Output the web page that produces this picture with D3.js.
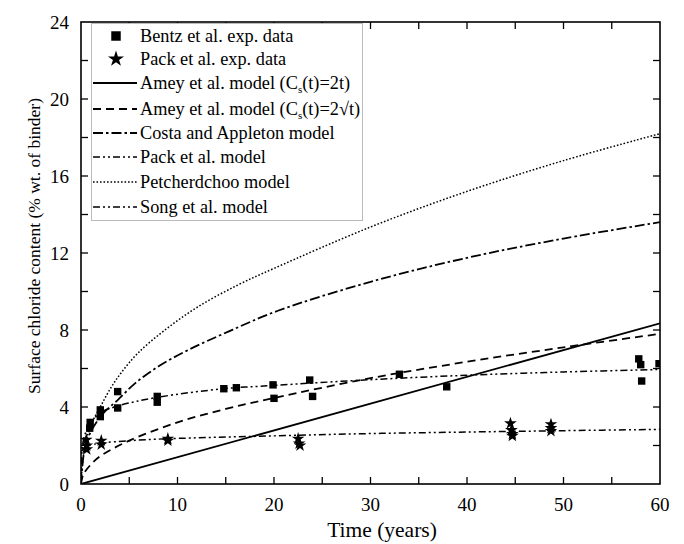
<!DOCTYPE html>
<html><head><meta charset="utf-8">
<script src="https://cdn.jsdelivr.net/npm/d3@7"></script>
<style>body{margin:0;background:#fff}svg{display:block}</style>
</head><body><svg id="c" width="684" height="544"></svg>
<script>
// ---- data ----
const xTicks = [0,10,20,30,40,50,60];
const yTicks = [0,4,8,12,16,20,24];
const bentzData = [[0.9,2.9],[0.95,3.2],[2.0,3.85],[2.0,3.5],[3.8,3.95],[3.8,4.8],[7.9,4.55],[7.9,4.25],
  [14.8,4.95],[16.1,5.0],[19.9,5.15],[20.0,4.45],[23.7,5.4],[24.0,4.55],[33.0,5.7],[37.9,5.05],
  [57.8,6.5],[58.0,6.2],[58.1,5.35],[59.9,6.25]];
const packData = [[0.55,2.3],[0.6,2.0],[0.6,1.8],[2.1,2.25],[2.1,2.05],[9.0,2.35],[9.0,2.25],
  [22.5,2.35],[22.6,2.1],[22.7,2.0],[44.5,3.15],[44.6,2.8],[44.7,2.6],[44.7,2.5],[48.7,3.1],[48.7,2.9],[48.7,2.75]];
const ameyLinear = [[0,0],[60,8.35]];
const ameySqrt = [[0,0],[0.25,0.5],[1,1.0],[2,1.45],[5,2.25],[10,3.2],[15,3.9],[20,4.47],[30,5.5],[40,6.35],[50,7.1],[60,7.8]];
const costaModel = [[0,0],[0.4,1.9],[1,2.7],[2.3,3.67],[3.8,4.36],[5.6,5.23],[8,6.1],[11.1,6.96],[15.2,7.9],[20.4,9.0],[30,10.5],[40,11.75],[50,12.75],[60,13.6]];
const packModel = [[0.05,1.7],[0.6,1.97],[2.1,2.12],[5,2.25],[9,2.35],[20,2.5],[30,2.62],[40,2.7],[50,2.77],[60,2.84]];
const petcherdchooModel = [[0,0],[0.2,1.25],[0.55,2.3],[1.25,3.3],[2.1,4.1],[3.1,5.0],[4.2,5.8],[5.9,6.8],[8.7,8.0],[12.1,9.2],[16.3,10.35],[20,11.2],[30,13.35],[40,15.2],[50,16.8],[60,18.2]];
const songModel = [[0,0],[0.15,2.0],[0.5,2.7],[1,3.15],[2,3.7],[3.8,4.05],[7.9,4.5],[14.8,4.95],[20,5.12],[30,5.42],[40,5.65],[50,5.82],[60,5.95]];

const FONT="Liberation Serif";
const svg = d3.select("#c");
const L=81,R=660,T=22,B=484;
const x = d3.scaleLinear().domain([0,60]).range([L,R]);
const y = d3.scaleLinear().domain([0,24]).range([B,T]);
const txt=(sel)=>sel.append("text").attr("font-family",FONT).attr("fill","#000");

svg.append("defs").append("clipPath").attr("id","clip").append("rect")
  .attr("x",L).attr("y",T).attr("width",R-L).attr("height",B-T);

// ticks (inward) on all four sides
const tk=7;
const minorX=d3.range(0,61,5), minorY=d3.range(0,25,2);
const g=svg.append("g").attr("stroke","#000").attr("stroke-width",1.3);
minorX.forEach(v=>{ if(v>0&&v<60){
  g.append("line").attr("x1",x(v)).attr("x2",x(v)).attr("y1",B).attr("y2",B-tk);
  g.append("line").attr("x1",x(v)).attr("x2",x(v)).attr("y1",T).attr("y2",T+tk);}});
minorY.forEach(v=>{ if(v>0&&v<24){
  g.append("line").attr("x1",L).attr("x2",L+tk).attr("y1",y(v)).attr("y2",y(v));
  g.append("line").attr("x1",R).attr("x2",R-tk).attr("y1",y(v)).attr("y2",y(v));}});

// tick labels
xTicks.forEach(v=>txt(svg).attr("x",x(v)).attr("y",511).attr("text-anchor","middle").attr("font-size",19).text(v));
yTicks.forEach(v=>txt(svg).attr("x",69).attr("y",y(v)+6.5).attr("text-anchor","end").attr("font-size",19).text(v));

// axis titles
txt(svg).attr("x",382).attr("y",537).attr("text-anchor","middle").attr("font-size",21.5).text("Time (years)");
txt(svg).attr("transform","translate(40,246) rotate(-90)").attr("text-anchor","middle")
  .attr("font-size",17.5).text("Surface chloride content (% wt. of binder)");

// curves
const line=d3.line().x(d=>x(d[0])).y(d=>y(d[1])).curve(d3.curveCatmullRom.alpha(0.5));
const plot=svg.append("g").attr("clip-path","url(#clip)");
const styles={
  ameyLinear:{dash:null,w:1.8},
  ameySqrt:{dash:"8,5",w:1.8},
  costa:{dash:"10,3,2.5,3",w:1.8},
  pack:{dash:"7,3,2,3,2,3",w:1.5},
  petch:{dash:"1.6,1.9",w:1.5},
  song:{dash:"7,3,2,3,2,3",w:1.5}
};
const series=[[ameyLinear,"ameyLinear"],[ameySqrt,"ameySqrt"],[costaModel,"costa"],[packModel,"pack"],[petcherdchooModel,"petch"],[songModel,"song"]];
series.forEach(([d,k])=>plot.append("path").attr("d",line(d)).attr("fill","none").attr("stroke","#000")
  .attr("stroke-width",styles[k].w).attr("stroke-dasharray",styles[k].dash));

// points
const sq=d3.symbol().type(d3.symbolSquare).size(55);
const st=d3.symbol().type(d3.symbolStar).size(50);
plot.selectAll(".b").data(bentzData).join("path").attr("d",sq).attr("transform",d=>`translate(${x(d[0])},${y(d[1])})`).attr("fill","#000");
plot.selectAll(".p").data(packData).join("path").attr("d",st).attr("transform",d=>`translate(${x(d[0])},${y(d[1])})`).attr("fill","#000");

// frame
svg.append("rect").attr("x",L).attr("y",T).attr("width",R-L).attr("height",B-T).attr("fill","none").attr("stroke","#000").attr("stroke-width",1.6);

// legend
const lg=svg.append("g");
lg.append("rect").attr("x",91.5).attr("y",23.5).attr("width",271).attr("height",197).attr("fill","#fff").attr("stroke","#bbb").attr("stroke-width",1);
const rows=[
  {t:"Bentz et al. exp. data",sym:"sq",y:36},
  {t:"Pack et al. exp. data",sym:"st",y:59},
  {t:["Amey et al. model (C","s","(t)=2t)"],k:"ameyLinear",y:83},
  {t:["Amey et al. model (C","s","(t)=2\u221At)"],k:"ameySqrt",y:109},
  {t:"Costa and Appleton model",k:"costa",y:133},
  {t:"Pack et al. model",k:"pack",y:157},
  {t:"Petcherdchoo model",k:"petch",y:182},
  {t:"Song et al. model",k:"song",y:207}
];
rows.forEach(r=>{
  if(r.sym==="sq") lg.append("path").attr("d",d3.symbol().type(d3.symbolSquare).size(90)()).attr("transform",`translate(116,${r.y})`);
  else if(r.sym==="st") lg.append("path").attr("d",d3.symbol().type(d3.symbolStar).size(80)()).attr("transform",`translate(116,${r.y})`);
  else lg.append("line").attr("x1",93).attr("x2",137).attr("y1",r.y).attr("y2",r.y).attr("stroke","#000")
    .attr("stroke-width",styles[r.k].w).attr("stroke-dasharray",styles[r.k].dash);
  const tx=txt(lg).attr("x",140).attr("y",r.y+6).attr("font-size",18.3);
  if(Array.isArray(r.t)){
    tx.append("tspan").text(r.t[0]);
    tx.append("tspan").attr("font-size",11).attr("dy",4).text(r.t[1]);
    tx.append("tspan").attr("dy",-4).text(r.t[2]);
  } else tx.text(r.t);
});
</script></body></html>
